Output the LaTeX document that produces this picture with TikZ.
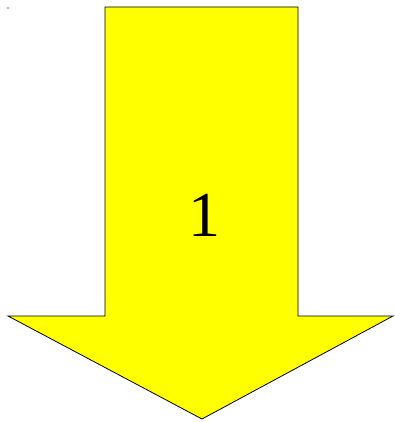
\documentclass[tikz,border=0pt]{standalone}
\usepackage{fontspec}
\setmainfont{Liberation Serif}
\definecolor{arrowyellow}{RGB}{255,255,0}
\begin{document}
\begin{tikzpicture}[x=1pt,y=-1pt,
  arrowbody/.style={draw=black, fill=arrowyellow, line width=0.8pt, line join=miter},
  numlabel/.style={font=\fontsize{64}{64}\selectfont, inner sep=0pt}]
\useasboundingbox (0,0) rectangle (394,422);
\fill[gray!60] (7,7) rectangle (9,9);
\draw[arrowbody] (105,7) -- (298,7) -- (298,316) -- (393,316) -- (202,419) -- (8,316) -- (105,316) -- cycle;
\node[numlabel] (n1) at (204,215) {1};
\end{tikzpicture}
\end{document}
